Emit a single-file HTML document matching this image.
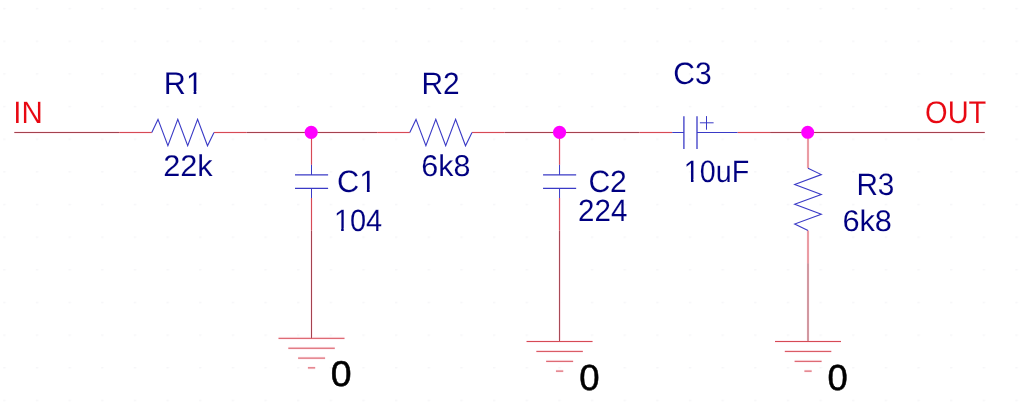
<!DOCTYPE html>
<html><head><meta charset="utf-8"><title>RC filter schematic</title>
<style>
html,body{margin:0;padding:0;background:#fff;}
body{width:1024px;height:410px;overflow:hidden;}
svg{display:block;font-family:"Liberation Sans",sans-serif;text-rendering:geometricPrecision;will-change:transform;}
</style></head><body>
<svg width="1024" height="410" viewBox="0 0 1024 410">
<defs><pattern id="g" x="3.2" y="7.9" width="32.65" height="32.65" patternUnits="userSpaceOnUse"><rect x="0" y="0" width="2.4" height="1.4" fill="#f6f6f8"/></pattern></defs>
<rect width="1024" height="410" fill="#fff"/>
<rect width="1024" height="410" fill="url(#g)"/>
<line x1="14.30" y1="132.50" x2="119.20" y2="132.50" stroke="#ffeef3" stroke-width="3"/>
<line x1="119.20" y1="132.50" x2="151.80" y2="132.50" stroke="#ffeef3" stroke-width="3"/>
<line x1="214.00" y1="132.50" x2="246.60" y2="132.50" stroke="#ffeef3" stroke-width="3"/>
<line x1="246.60" y1="132.50" x2="377.20" y2="132.50" stroke="#ffeef3" stroke-width="3"/>
<line x1="377.20" y1="132.50" x2="409.80" y2="132.50" stroke="#ffeef3" stroke-width="3"/>
<line x1="472.00" y1="132.50" x2="504.60" y2="132.50" stroke="#ffeef3" stroke-width="3"/>
<line x1="504.60" y1="132.50" x2="639.60" y2="132.50" stroke="#ffeef3" stroke-width="3"/>
<line x1="639.60" y1="132.50" x2="672.20" y2="132.50" stroke="#ffeef3" stroke-width="3"/>
<line x1="737.50" y1="132.50" x2="770.10" y2="132.50" stroke="#ffeef3" stroke-width="3"/>
<line x1="770.10" y1="132.50" x2="984.80" y2="132.50" stroke="#ffeef3" stroke-width="3"/>
<line x1="311.50" y1="132.50" x2="311.50" y2="164.80" stroke="#ffeef3" stroke-width="3"/>
<line x1="311.50" y1="198.00" x2="311.50" y2="230.60" stroke="#ffeef3" stroke-width="3"/>
<line x1="311.50" y1="230.60" x2="311.50" y2="338.30" stroke="#ffeef3" stroke-width="3"/>
<line x1="278.50" y1="338.30" x2="344.50" y2="338.30" stroke="#ffeef3" stroke-width="3"/>
<line x1="288.30" y1="348.20" x2="334.80" y2="348.20" stroke="#ffeef3" stroke-width="3"/>
<line x1="298.10" y1="358.10" x2="325.10" y2="358.10" stroke="#ffeef3" stroke-width="3"/>
<line x1="307.90" y1="367.90" x2="315.20" y2="367.90" stroke="#ffeef3" stroke-width="3"/>
<line x1="559.55" y1="132.50" x2="559.55" y2="164.80" stroke="#ffeef3" stroke-width="3"/>
<line x1="559.55" y1="198.00" x2="559.55" y2="230.60" stroke="#ffeef3" stroke-width="3"/>
<line x1="559.55" y1="230.60" x2="559.55" y2="341.50" stroke="#ffeef3" stroke-width="3"/>
<line x1="526.55" y1="341.50" x2="592.55" y2="341.50" stroke="#ffeef3" stroke-width="3"/>
<line x1="536.35" y1="351.40" x2="582.85" y2="351.40" stroke="#ffeef3" stroke-width="3"/>
<line x1="546.15" y1="361.30" x2="573.15" y2="361.30" stroke="#ffeef3" stroke-width="3"/>
<line x1="555.95" y1="371.10" x2="563.25" y2="371.10" stroke="#ffeef3" stroke-width="3"/>
<line x1="808.00" y1="132.50" x2="808.00" y2="168.20" stroke="#ffeef3" stroke-width="3"/>
<line x1="808.00" y1="230.60" x2="808.00" y2="263.20" stroke="#ffeef3" stroke-width="3"/>
<line x1="808.00" y1="263.20" x2="808.00" y2="341.50" stroke="#ffeef3" stroke-width="3"/>
<line x1="775.00" y1="341.50" x2="841.00" y2="341.50" stroke="#ffeef3" stroke-width="3"/>
<line x1="784.80" y1="351.40" x2="831.30" y2="351.40" stroke="#ffeef3" stroke-width="3"/>
<line x1="794.60" y1="361.30" x2="821.60" y2="361.30" stroke="#ffeef3" stroke-width="3"/>
<line x1="804.40" y1="371.10" x2="811.70" y2="371.10" stroke="#ffeef3" stroke-width="3"/>
<line x1="14.30" y1="132.50" x2="119.20" y2="132.50" stroke="#a4424e" stroke-width="1.0"/>
<line x1="119.20" y1="132.50" x2="151.80" y2="132.50" stroke="#d64a54" stroke-width="1.0"/>
<line x1="214.00" y1="132.50" x2="246.60" y2="132.50" stroke="#d64a54" stroke-width="1.0"/>
<line x1="246.60" y1="132.50" x2="377.20" y2="132.50" stroke="#a4424e" stroke-width="1.0"/>
<line x1="377.20" y1="132.50" x2="409.80" y2="132.50" stroke="#d64a54" stroke-width="1.0"/>
<line x1="472.00" y1="132.50" x2="504.60" y2="132.50" stroke="#d64a54" stroke-width="1.0"/>
<line x1="504.60" y1="132.50" x2="639.60" y2="132.50" stroke="#a4424e" stroke-width="1.0"/>
<line x1="639.60" y1="132.50" x2="672.20" y2="132.50" stroke="#d64a54" stroke-width="1.0"/>
<line x1="737.50" y1="132.50" x2="770.10" y2="132.50" stroke="#d64a54" stroke-width="1.0"/>
<line x1="770.10" y1="132.50" x2="984.80" y2="132.50" stroke="#a4424e" stroke-width="1.0"/>
<polyline points="151.80,132.50 158.00,119.40 167.90,145.80 177.80,119.40 187.70,145.80 197.60,119.40 207.50,145.80 214.00,132.50" fill="none" stroke="#3a3ac6" stroke-width="1.1" stroke-linejoin="miter"/>
<polyline points="409.80,132.50 416.00,119.40 425.90,145.80 435.80,119.40 445.70,145.80 455.60,119.40 465.50,145.80 472.00,132.50" fill="none" stroke="#3a3ac6" stroke-width="1.1" stroke-linejoin="miter"/>
<line x1="311.50" y1="132.50" x2="311.50" y2="164.80" stroke="#d64a54" stroke-width="1.0"/>
<line x1="311.50" y1="164.80" x2="311.50" y2="174.90" stroke="#3a3ac6" stroke-width="1.0"/>
<line x1="295.00" y1="174.90" x2="328.10" y2="174.90" stroke="#3a3ac6" stroke-width="1.2"/>
<line x1="295.00" y1="188.40" x2="328.10" y2="188.40" stroke="#3a3ac6" stroke-width="1.2"/>
<line x1="311.50" y1="188.40" x2="311.50" y2="198.00" stroke="#3a3ac6" stroke-width="1.0"/>
<line x1="311.50" y1="198.00" x2="311.50" y2="230.60" stroke="#d64a54" stroke-width="1.0"/>
<line x1="311.50" y1="230.60" x2="311.50" y2="338.30" stroke="#a4424e" stroke-width="1.0"/>
<line x1="278.50" y1="338.30" x2="344.50" y2="338.30" stroke="#d64a54" stroke-width="1.0"/>
<line x1="288.30" y1="348.20" x2="334.80" y2="348.20" stroke="#d64a54" stroke-width="1.0"/>
<line x1="298.10" y1="358.10" x2="325.10" y2="358.10" stroke="#d64a54" stroke-width="1.0"/>
<line x1="307.90" y1="367.90" x2="315.20" y2="367.90" stroke="#d64a54" stroke-width="1.0"/>
<line x1="559.55" y1="132.50" x2="559.55" y2="164.80" stroke="#d64a54" stroke-width="1.0"/>
<line x1="559.55" y1="164.80" x2="559.55" y2="174.90" stroke="#3a3ac6" stroke-width="1.0"/>
<line x1="543.05" y1="174.90" x2="576.15" y2="174.90" stroke="#3a3ac6" stroke-width="1.2"/>
<line x1="543.05" y1="188.40" x2="576.15" y2="188.40" stroke="#3a3ac6" stroke-width="1.2"/>
<line x1="559.55" y1="188.40" x2="559.55" y2="198.00" stroke="#3a3ac6" stroke-width="1.0"/>
<line x1="559.55" y1="198.00" x2="559.55" y2="230.60" stroke="#d64a54" stroke-width="1.0"/>
<line x1="559.55" y1="230.60" x2="559.55" y2="341.50" stroke="#a4424e" stroke-width="1.0"/>
<line x1="526.55" y1="341.50" x2="592.55" y2="341.50" stroke="#d64a54" stroke-width="1.0"/>
<line x1="536.35" y1="351.40" x2="582.85" y2="351.40" stroke="#d64a54" stroke-width="1.0"/>
<line x1="546.15" y1="361.30" x2="573.15" y2="361.30" stroke="#d64a54" stroke-width="1.0"/>
<line x1="555.95" y1="371.10" x2="563.25" y2="371.10" stroke="#d64a54" stroke-width="1.0"/>
<line x1="672.20" y1="132.50" x2="683.90" y2="132.50" stroke="#3a3ac6" stroke-width="1.0"/>
<line x1="683.90" y1="116.20" x2="683.90" y2="149.10" stroke="#3a3ac6" stroke-width="1.3"/>
<line x1="697.00" y1="116.20" x2="697.00" y2="149.10" stroke="#3a3ac6" stroke-width="1.3"/>
<line x1="697.00" y1="132.50" x2="737.50" y2="132.50" stroke="#3a3ac6" stroke-width="1.0"/>
<line x1="699.90" y1="122.80" x2="713.60" y2="122.80" stroke="#3a3ac6" stroke-width="1.0"/>
<line x1="706.50" y1="116.10" x2="706.50" y2="129.70" stroke="#3a3ac6" stroke-width="1.0"/>
<line x1="808.00" y1="132.50" x2="808.00" y2="168.20" stroke="#d64a54" stroke-width="1.0"/>
<polyline points="808.00,168.20 821.30,174.60 794.70,184.50 821.30,194.40 794.70,204.30 821.30,214.20 794.70,224.10 808.00,230.60" fill="none" stroke="#3a3ac6" stroke-width="1.1" stroke-linejoin="miter"/>
<line x1="808.00" y1="230.60" x2="808.00" y2="263.20" stroke="#d64a54" stroke-width="1.0"/>
<line x1="808.00" y1="263.20" x2="808.00" y2="341.50" stroke="#a4424e" stroke-width="1.0"/>
<line x1="775.00" y1="341.50" x2="841.00" y2="341.50" stroke="#d64a54" stroke-width="1.0"/>
<line x1="784.80" y1="351.40" x2="831.30" y2="351.40" stroke="#d64a54" stroke-width="1.0"/>
<line x1="794.60" y1="361.30" x2="821.60" y2="361.30" stroke="#d64a54" stroke-width="1.0"/>
<line x1="804.40" y1="371.10" x2="811.70" y2="371.10" stroke="#d64a54" stroke-width="1.0"/>
<circle cx="311.2" cy="132.3" r="6.6" fill="#ff00ff"/>
<circle cx="559.55" cy="132.3" r="6.6" fill="#ff00ff"/>
<circle cx="807.7" cy="132.3" r="6.5" fill="#ff00ff"/>
<text transform="translate(13.26,123) scale(0.9512,1)" fill="#e80812" stroke="#fff" stroke-width="0.1" font-size="31.06">IN</text>
<text transform="translate(925.05,123) scale(0.9286,1)" fill="#e80812" stroke="#fff" stroke-width="0.1" font-size="31.27">OUT</text>
<text transform="translate(163.84,94) scale(0.9806,1)" fill="#000080" stroke="#fff" stroke-width="0.1" font-size="31.20">R1</text>
<rect x="187.16" y="91.00" width="6.46" height="3.80" fill="#fff"/>
<rect x="196.34" y="91.00" width="6.12" height="3.80" fill="#fff"/>
<text transform="translate(163.15,176) scale(1.0272,1)" fill="#000080" stroke="#fff" stroke-width="0.1" font-size="29.93">22k</text>
<text transform="translate(421.55,94) scale(0.9700,1)" fill="#000080" stroke="#fff" stroke-width="0.1" font-size="30.80">R2</text>
<text transform="translate(421.35,176) scale(1.0142,1)" fill="#000080" stroke="#fff" stroke-width="0.1" font-size="30.02">6k8</text>
<text transform="translate(337.02,192) scale(0.9973,1)" fill="#000080" stroke="#fff" stroke-width="0.1" font-size="30.78">C1</text>
<rect x="360.42" y="189.00" width="6.48" height="3.80" fill="#fff"/>
<rect x="369.63" y="189.00" width="6.14" height="3.80" fill="#fff"/>
<text transform="translate(333.88,231) scale(0.9422,1)" fill="#000080" stroke="#fff" stroke-width="0.1" font-size="30.74">104</text>
<rect x="335.04" y="228.00" width="6.11" height="3.80" fill="#fff"/>
<rect x="343.72" y="228.00" width="5.79" height="3.80" fill="#fff"/>
<text transform="translate(588.39,192) scale(0.9786,1)" fill="#000080" stroke="#fff" stroke-width="0.1" font-size="30.75">C2</text>
<text transform="translate(578.00,221) scale(0.9592,1)" fill="#000080" stroke="#fff" stroke-width="0.1" font-size="30.84">224</text>
<text transform="translate(673.33,84) scale(0.9712,1)" fill="#000080" stroke="#fff" stroke-width="0.1" font-size="31.00">C3</text>
<text transform="translate(683.75,182) scale(0.9262,1)" fill="#000080" stroke="#fff" stroke-width="0.1" font-size="30.99">10uF</text>
<rect x="684.90" y="179.00" width="6.06" height="3.80" fill="#fff"/>
<rect x="693.51" y="179.00" width="5.74" height="3.80" fill="#fff"/>
<text transform="translate(856.39,195) scale(0.9635,1)" fill="#000080" stroke="#fff" stroke-width="0.1" font-size="30.89">R3</text>
<text transform="translate(842.38,231) scale(1.0320,1)" fill="#000080" stroke="#fff" stroke-width="0.1" font-size="29.77">6k8</text>
<text transform="translate(330.67,386) scale(1.0486,1)" fill="#000" stroke="#000" stroke-width="0.5" font-size="35.68">0</text>
<text transform="translate(579.28,390) scale(1.0077,1)" fill="#000" stroke="#000" stroke-width="0.5" font-size="36.28">0</text>
<text transform="translate(827.48,390) scale(1.0103,1)" fill="#000" stroke="#000" stroke-width="0.5" font-size="36.05">0</text>
</svg>
</body></html>
